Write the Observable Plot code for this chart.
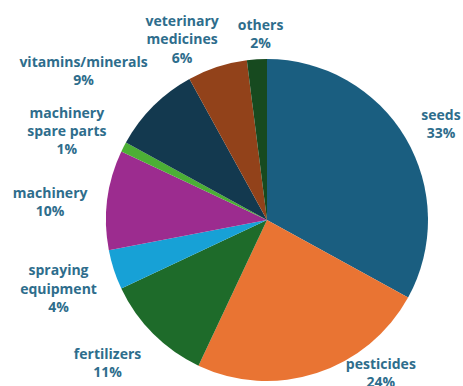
<!DOCTYPE html>
<html>
<head>
<meta charset="utf-8">
<script src="https://cdn.jsdelivr.net/npm/d3@7"></script>
<script src="https://cdn.jsdelivr.net/npm/@observablehq/plot@0.6"></script>
<style>
  html, body { margin: 0; padding: 0; background: #fff; }
  #chart svg { display: block; }
</style>
</head>
<body>
<div id="chart"></div>
<script>
// ---- data ----
const categories = ["seeds", "pesticides", "fertilizers", "spraying equipment", "machinery",
  "machinery spare parts", "vitamins/minerals", "veterinary medicines", "others"];
const shares = [33, 24, 11, 4, 10, 1, 9, 6, 2];
const labelLines = [
  "seeds", "pesticides", "fertilizers", "spraying\nequipment", "machinery",
  "machinery\nspare parts", "vitamins/minerals", "veterinary\nmedicines", "others"
];
const colors = ["#1a5e80", "#e97433", "#1e6b2a", "#17a1d6", "#9c2c8f",
  "#4caf35", "#13394f", "#92421a", "#174a1f"];

// ---- layout (px) ----
const W = 463, H = 386;
const cx = 267, cy = 220, R = 161;
const labelR = 205;
const nudge = {
  "seeds": [-3, 7], "pesticides": [50, -43], "fertilizers": [-15, -3],
  "spraying equipment": [-14, 4], "machinery": [-14, 6], "machinery spare parts": [-18, 3],
  "vitamins/minerals": [-39, -5], "veterinary medicines": [-22, 13], "others": [6, 17]
};

const table = categories.map((c, i) => ({category: c, share: shares[i], label: labelLines[i] + "\n" + shares[i] + "%"}));
const pie = d3.pie().value(d => d.share).sort(null)(table);
pie.forEach(p => {
  const mid = (p.startAngle + p.endAngle) / 2;
  p.data.start = p.startAngle;
  p.data.end = p.endAngle;
  p.data.lx = (labelR * Math.sin(mid) + nudge[p.data.category][0]) / R;
  p.data.ly = (labelR * Math.cos(mid) - nudge[p.data.category][1]) / R;
});

const arc = d3.arc().innerRadius(0);

const chart = Plot.plot({
  width: W,
  height: H,
  margin: 0,
  style: {background: "#fff"},
  x: {domain: [-1, 1], range: [cx - R, cx + R], axis: null},
  y: {domain: [-1, 1], range: [cy + R, cy - R], axis: null},
  color: {domain: categories, range: colors},
  marks: [
    Plot.dot(table, {
      x: () => 0, y: () => 0, fill: "category",
      render(index, scales, values) {
        const g = d3.create("svg:g");
        const ox = scales.x(0), oy = scales.y(0);
        const rad = scales.x(1) - scales.x(0);
        for (const i of index) {
          const d = table[i];
          g.append("path")
            .attr("transform", `translate(${ox},${oy})`)
            .attr("d", arc.outerRadius(rad)({startAngle: d.start, endAngle: d.end}))
            .attr("fill", values.fill[i]);
        }
        return g.node();
      }
    }),
    Plot.text(table, {
      x: "lx", y: "ly", text: "label",
      fill: "#2e6d8c",
      fontSize: 14,
      fontWeight: "bold",
      fontFamily: "Open Sans",
      lineHeight: 1.3,
      lineAnchor: "middle",
      textAnchor: "middle"
    })
  ]
});
document.getElementById("chart").appendChild(chart);
</script>
</body>
</html>
